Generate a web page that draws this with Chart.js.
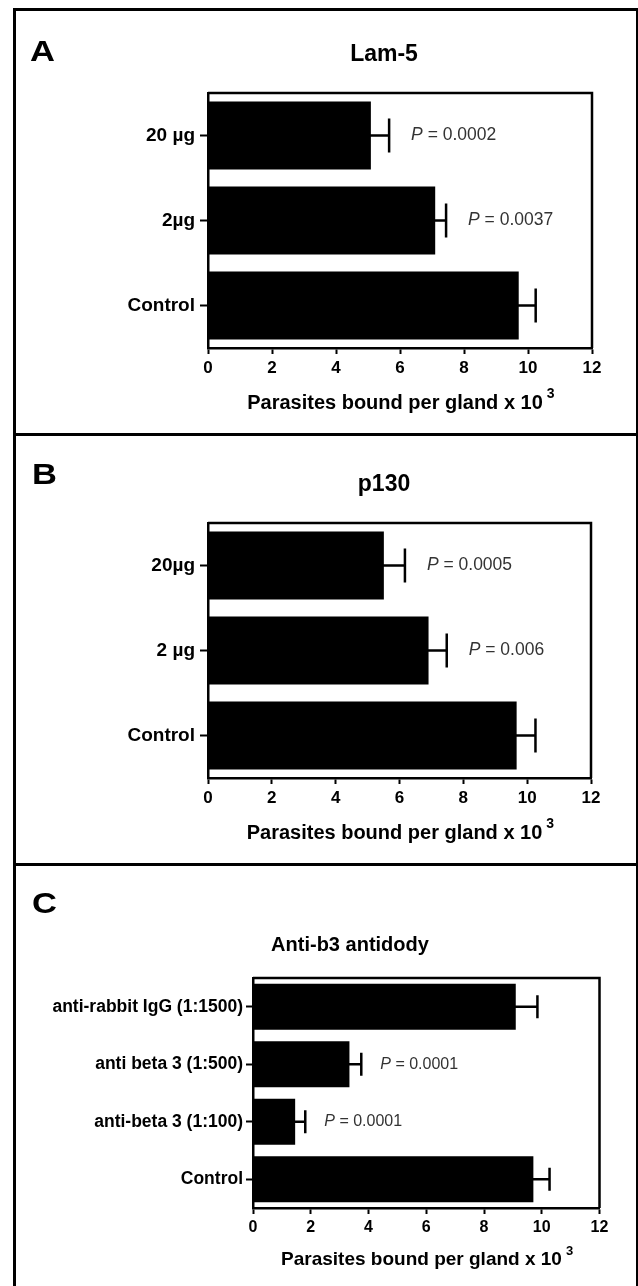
<!DOCTYPE html>
<html><head><meta charset="utf-8">
<script src="https://cdn.jsdelivr.net/npm/chart.js@4.4.0/dist/chart.umd.min.js"></script>
<style>
html,body{margin:0;padding:0;background:#fff;}
body{width:638px;height:1286px;position:relative;overflow:hidden;}
.line{position:absolute;background:#000;}
.letter{position:absolute;font:bold 30px 'Liberation Sans',Arial,sans-serif;line-height:30px;transform:scaleX(1.15);transform-origin:0 0;color:#000;}
canvas{position:absolute;}
</style></head><body>
<canvas id="chartA"></canvas>
<canvas id="chartB"></canvas>
<canvas id="chartC"></canvas>
<div class="line" style="left:13px;top:8px;width:3px;height:1290px"></div>
<div class="line" style="left:13px;top:8px;width:625px;height:3px"></div>
<div class="line" style="left:636px;top:8px;width:2px;height:1290px"></div>
<div class="line" style="left:13px;top:433px;width:625px;height:3px"></div>
<div class="line" style="left:13px;top:863px;width:625px;height:3px"></div>
<div class="letter" style="left:30px;top:36px">A</div>
<div class="letter" style="left:32px;top:459px">B</div>
<div class="letter" style="left:32px;top:888px">C</div>
<script>
// ---- data ----
const xTicks = [0, 2, 4, 6, 8, 10, 12];
const xTitleBase = 'Parasites bound per gland x 10';
const xTitleExp = '3';

const aTitle = 'Lam-5';
const aCategories = ['20 \u00b5g', '2\u00b5g', 'Control'];
const aMeans = [5.09, 7.10, 9.71];
const aErrors = [0.57, 0.34, 0.53];
const aPValues = ['0.0002', '0.0037', ''];

const bTitle = 'p130';
const bCategories = ['20\u00b5g', '2 \u00b5g', 'Control'];
const bMeans = [5.51, 6.91, 9.67];
const bErrors = [0.66, 0.57, 0.59];
const bPValues = ['0.0005', '0.006', ''];

const cTitle = 'Anti-b3 antidody';
const cCategories = ['anti-rabbit IgG (1:1500)', 'anti beta 3 (1:500)', 'anti-beta 3 (1:100)', 'Control'];
const cMeans = [9.10, 3.34, 1.46, 9.71];
const cErrors = [0.75, 0.41, 0.35, 0.56];
const cPValues = ['', '0.0001', '0.0001', ''];

// ---- rendering ----
const FONT = "'Liberation Sans', Arial, Helvetica, sans-serif";
Chart.defaults.color = '#000';
Chart.defaults.font.family = FONT;

const plotFrame = {
  id: 'plotFrame',
  afterDatasetsDraw(chart, args, o) {
    const {ctx, chartArea: a} = chart;
    ctx.save();
    ctx.strokeStyle = '#000';
    ctx.lineWidth = o.width;
    ctx.beginPath();
    ctx.moveTo(a.left, a.top);
    ctx.lineTo(a.right, a.top);
    ctx.lineTo(a.right, a.bottom);
    ctx.stroke();
    ctx.restore();
  }
};

const errorBars = {
  id: 'errorBars',
  afterDatasetsDraw(chart, args, o) {
    const {ctx} = chart;
    const xs = chart.scales.x;
    const meta = chart.getDatasetMeta(0);
    const vals = chart.data.datasets[0].data;
    ctx.save();
    ctx.strokeStyle = '#000';
    ctx.lineWidth = o.lineWidth;
    meta.data.forEach((bar, i) => {
      const x0 = xs.getPixelForValue(vals[i]);
      const x1 = xs.getPixelForValue(vals[i] + o.errors[i]);
      const cap = bar.height * 0.25;
      ctx.beginPath();
      ctx.moveTo(x0 - 1, bar.y);
      ctx.lineTo(x1, bar.y);
      ctx.moveTo(x1, bar.y - cap);
      ctx.lineTo(x1, bar.y + cap);
      ctx.stroke();
      const p = o.pValues[i];
      if (p) {
        let tx = x1 + o.gap;
        ctx.fillStyle = '#333';
        ctx.textBaseline = 'middle';
        ctx.textAlign = 'left';
        ctx.font = `italic ${o.pSize}px ${FONT}`;
        ctx.fillText('P', tx, bar.y);
        tx += ctx.measureText('P').width;
        ctx.font = `${o.pSize}px ${FONT}`;
        ctx.fillText(' = ' + p, tx, bar.y);
      }
    });
    ctx.restore();
  }
};

const superscript = {
  id: 'superscript',
  afterDraw(chart, args, o) {
    const s = chart.scales.x;
    const ctx = chart.ctx;
    const lh = o.titleSize * 1.2;
    const cy = s.bottom - lh / 2;
    const cx = (s.left + s.right) / 2;
    ctx.save();
    ctx.font = `bold ${o.titleSize}px ${FONT}`;
    const full = ctx.measureText(o.fullText).width;
    const vis = ctx.measureText(o.base).width;
    const xEnd = cx - full / 2 + vis;
    ctx.font = `bold ${o.size}px ${FONT}`;
    ctx.textBaseline = 'middle';
    ctx.textAlign = 'left';
    ctx.fillStyle = '#000';
    ctx.fillText(o.text, xEnd + o.gap, cy + o.dy);
    ctx.restore();
  }
};

function makePanel(id, d, L) {
  const cv = document.getElementById(id);
  const CL = 17;
  const pR = 10;
  // canvas wide enough that the full-width title is centred at titleCX
  const CW = Math.round(2 * (L.titleCX - CL) + pR);
  const R = CL + CW - pR - L.right;       // spacer on the right of the plot
  const wy = L.left - CL;                  // y-axis box width
  cv.width = CW; cv.height = L.ch;
  cv.style.left = CL + 'px'; cv.style.top = L.ct + 'px';
  cv.style.width = CW + 'px'; cv.style.height = L.ch + 'px';
  const tlh = L.titleSize * 1.2;
  const tPadTop = L.titleCY - L.ct - tlh / 2;
  const tPadBot = L.top - L.titleCY - tlh / 2;
  const xlh = L.xTitleSize * 1.2;
  const xH = L.xTitleCY - L.bottom + xlh / 2;
  const pB = L.ct + L.ch - L.bottom - xH;
  const fullText = xTitleBase + '\u2002';
  new Chart(cv, {
    type: 'bar',
    data: {
      labels: d.categories,
      datasets: [{ data: d.means, backgroundColor: '#000', borderWidth: 0,
        categoryPercentage: 0.8, barPercentage: 1, yAxisID: 'y' }]
    },
    options: {
      indexAxis: 'y', responsive: false, animation: false, devicePixelRatio: 1,
      layout: { padding: { left: 0, right: pR, top: 0, bottom: pB } },
      plugins: {
        legend: { display: false },
        tooltip: { enabled: false },
        title: { display: true, text: d.title, color: '#000',
          font: { family: FONT, size: L.titleSize, weight: 'bold', lineHeight: 1.2 },
          padding: { top: tPadTop, bottom: tPadBot } },
        plotFrame: { width: 2.5 },
        errorBars: { errors: d.errors, pValues: d.pValues, gap: L.pGap, pSize: L.pSize, lineWidth: 2.5 },
        superscript: { titleSize: L.xTitleSize, fullText: fullText, base: xTitleBase, text: xTitleExp,
          size: Math.round(L.xTitleSize * 0.68), gap: 4, dy: -9 }
      },
      scales: {
        x: {
          type: 'linear', min: xTicks[0], max: xTicks[xTicks.length - 1],
          afterBuildTicks: s => { s.ticks = xTicks.map(v => ({ value: v })); },
          afterFit: s => { s.height = xH; },
          ticks: { color: '#000', font: { family: FONT, size: L.tickSize, weight: 'bold' },
            padding: L.xTickPad, maxRotation: 0, autoSkip: false },
          grid: { display: true, drawOnChartArea: false, drawTicks: true,
            tickLength: L.xTickLen, tickWidth: 2, tickColor: '#000' },
          border: { display: true, color: '#000', width: 2.5 },
          title: { display: true, text: fullText, color: '#000',
            font: { family: FONT, size: L.xTitleSize, weight: 'bold', lineHeight: 1.2 },
            padding: { top: 0, bottom: 0 } }
        },
        y: {
          type: 'category', position: 'left', offset: true,
          afterFit: s => { s.width = wy; },
          ticks: { color: '#000', font: { family: FONT, size: L.yLabelSize, weight: 'bold' },
            padding: L.yTickPad, autoSkip: false },
          grid: { display: true, offset: false, drawOnChartArea: false, drawTicks: true,
            tickLength: L.yTickLen, tickWidth: 2, tickColor: '#000' },
          border: { display: true, color: '#000', width: 2.5 }
        },
        spacer: {
          type: 'category', position: 'right', display: true, offset: true,
          afterFit: s => { s.width = R; },
          ticks: { display: false },
          grid: { display: false, drawTicks: false },
          border: { display: false }
        }
      }
    },
    plugins: [plotFrame, errorBars, superscript]
  });
}

makePanel('chartA',
  { title: aTitle, categories: aCategories, means: aMeans, errors: aErrors, pValues: aPValues },
  { ct: 11, ch: 421, left: 208, right: 592, top: 93, bottom: 348, titleCX: 384, titleCY: 55,
    titleSize: 23, xTitleCY: 403, xTitleSize: 20, tickSize: 17, yLabelSize: 19, pSize: 17.5,
    yTickLen: 8, yTickPad: 5, xTickLen: 6, xTickPad: 4, pGap: 22 });

makePanel('chartB',
  { title: bTitle, categories: bCategories, means: bMeans, errors: bErrors, pValues: bPValues },
  { ct: 437, ch: 425, left: 208, right: 591, top: 523, bottom: 778, titleCX: 384, titleCY: 485,
    titleSize: 23, xTitleCY: 833, xTitleSize: 20, tickSize: 17, yLabelSize: 19, pSize: 17.5,
    yTickLen: 8, yTickPad: 5, xTickLen: 6, xTickPad: 4, pGap: 22 });

makePanel('chartC',
  { title: cTitle, categories: cCategories, means: cMeans, errors: cErrors, pValues: cPValues },
  { ct: 867, ch: 419, left: 253, right: 599.5, top: 978, bottom: 1208, titleCX: 350, titleCY: 945,
    titleSize: 20, xTitleCY: 1260, xTitleSize: 19, tickSize: 16, yLabelSize: 17.5, pSize: 16,
    yTickLen: 7, yTickPad: 3, xTickLen: 6, xTickPad: 4, pGap: 19 });
</script>
</body></html>
